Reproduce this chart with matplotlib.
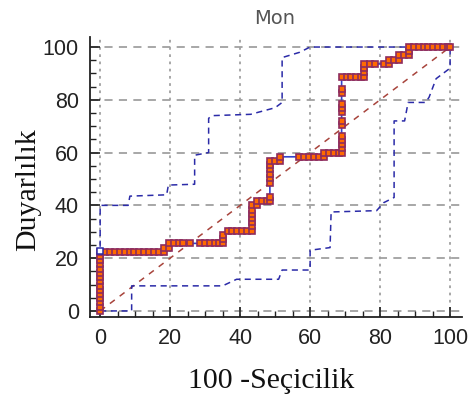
import matplotlib
matplotlib.use("Agg")
import matplotlib.pyplot as plt
from matplotlib.ticker import MultipleLocator

# ROC curve points (100 - specificity, sensitivity)
roc_fpr = [0, 0, 0, 0, 0, 0, 0, 0, 0, 0, 0, 0, 0, 0, 0,
           1.4, 2.8, 4.2, 5.6, 7.0, 8.4, 9.8, 11.2, 12.6, 14.0, 15.4, 16.8,
           18.2, 18.2, 19.6, 19.6, 21.0, 22.4, 23.8, 25.7, 28.5, 29.9, 31.3, 32.7, 34.1,
           35.0, 35.0, 35.0, 36.4, 37.8, 39.2, 40.6, 42.0, 43.4,
           43.4, 43.4, 43.4, 43.4, 43.4, 43.4, 44.8, 44.8, 46.2, 47.6,
           48.5, 48.5, 48.5, 48.5, 48.5, 48.5, 48.5, 48.5, 50.0, 51.5, 51.5,
           56.8, 58.2, 59.6, 61.0, 62.4, 64.0, 64.0, 65.4, 66.8, 68.2,
           69.0, 69.0, 69.0, 69.0, 69.0, 69.0, 69.0, 69.0, 69.0, 69.0, 69.0, 69.0, 69.0,
           70.4, 71.8, 73.2, 74.6, 75.5, 75.5, 75.5, 75.5, 77.0, 78.4,
           81.2, 82.6, 82.6, 84.0, 85.4, 85.4, 86.8, 88.2, 88.2, 88.2,
           89.6, 91.0, 92.4, 93.8, 95.2, 96.6, 98.0, 99.4, 100]
roc_tpr = [0, 1.6, 3.2, 4.8, 6.4, 8.0, 9.6, 11.2, 12.8, 14.4, 16.0, 17.6, 19.2, 20.8, 22.4,
           22.4, 22.4, 22.4, 22.4, 22.4, 22.4, 22.4, 22.4, 22.4, 22.4, 22.4, 22.4,
           22.4, 24.0, 24.0, 25.6, 25.6, 25.6, 25.6, 25.6, 25.6, 25.6, 25.6, 25.6, 25.6,
           25.6, 27.2, 28.8, 30.4, 30.4, 30.4, 30.4, 30.4, 30.4,
           32.0, 33.6, 35.2, 36.8, 38.4, 40.0, 40.0, 41.6, 41.6, 41.6,
           41.6, 43.0, 48.3, 50.4, 52.0, 53.6, 55.2, 56.8, 56.8, 56.8, 58.4,
           58.4, 58.4, 58.4, 58.4, 58.4, 58.4, 60.0, 60.0, 60.0, 60.0,
           60.0, 61.6, 63.2, 64.8, 66.4, 70.4, 72.0, 75.2, 76.8, 78.4, 82.4, 84.0, 88.8,
           88.8, 88.8, 88.8, 88.8, 88.8, 90.4, 92.0, 93.6, 93.6, 93.6,
           93.6, 93.6, 95.2, 95.2, 95.2, 96.8, 96.8, 96.8, 98.4, 100,
           100, 100, 100, 100, 100, 100, 100, 100, 100]

# Highlighted point at the top of the first vertical run
cut_fpr = [0]
cut_tpr = [22.8]

# Upper confidence bound
upper_x = [0, 0, 8, 8.5, 19, 19.5, 27, 27, 31, 31, 32, 43, 50, 52, 52, 57, 60, 100]
upper_y = [0, 40, 40, 43.5, 44, 47.7, 48, 59, 60, 73, 74, 74.5, 77, 79, 96, 98, 100, 100]

# Lower confidence bound
lower_x = [0, 9, 9, 35, 39, 51, 52, 60, 60, 65.7, 66, 79, 81, 84, 84, 87, 88, 93, 94, 96, 98, 100, 100]
lower_y = [0, 0, 9.5, 9.5, 12, 12, 15.5, 15.5, 23, 24, 37.5, 38, 41, 43, 72, 72, 79, 79, 81, 88, 90, 92, 100]

# Reference diagonal
diag_x = [0, 100]
diag_y = [0, 100]

major_ticks = [0, 20, 40, 60, 80, 100]

fig = plt.figure(figsize=(4.7, 4.05), dpi=100)
ax = fig.add_axes([90 / 470, 1 - 317 / 405, 372 / 470, 280 / 405])

ax.set_xlim(-2.9, 103.4)
ax.set_ylim(-2.3, 103.8)

# grid: dashed horizontals, dotted verticals
for v in major_ticks:
    ax.axhline(v, color="#a0a0a0", lw=1.3, ls=(0, (4.5, 3.5)), zorder=0)
    ax.axvline(v, color="#a0a0a0", lw=1.3, ls=(0, (1.5, 2.5)), zorder=0)

ax.plot(diag_x, diag_y, color="#a8443c", lw=1.1, ls=(0, (4, 4)), zorder=1)
ax.plot(upper_x, upper_y, color="#2b2ba8", lw=1.1, ls=(0, (4, 3)), zorder=2)
ax.plot(lower_x, lower_y, color="#2b2ba8", lw=1.1, ls=(0, (4, 3)), zorder=2)

ax.plot(roc_fpr, roc_tpr, color="#3344cc", lw=1.2, zorder=3)
ax.plot(roc_fpr, roc_tpr, ls="none", marker="s", markersize=4.6,
        markerfacecolor="#ff6a00", markeredgecolor="#8e2c5e", markeredgewidth=1.2, zorder=4)
ax.plot(cut_fpr, cut_tpr, ls="none", marker="s", markersize=4.6,
        markerfacecolor="white", markeredgecolor="#2b2ba8", markeredgewidth=1.1, zorder=5)

for s in ["top", "right"]:
    ax.spines[s].set_visible(False)
for s in ["left", "bottom"]:
    ax.spines[s].set_linewidth(1.3)
    ax.spines[s].set_color("#222222")

ax.xaxis.set_major_locator(MultipleLocator(20))
ax.yaxis.set_major_locator(MultipleLocator(20))
ax.xaxis.set_minor_locator(MultipleLocator(5))
ax.yaxis.set_minor_locator(MultipleLocator(5))
ax.tick_params(which="major", direction="in", length=7, width=1.2, color="#222222",
               labelsize=15.5, labelcolor="#222222", pad=8)
ax.tick_params(which="minor", direction="in", length=4, width=1.0, color="#222222")
for lab in ax.get_xticklabels() + ax.get_yticklabels():
    lab.set_family("Liberation Sans")

fig.text(275 / 470, 1 - 19 / 405, "Mon", ha="center", va="center",
         fontsize=14, color="#555555", family="DejaVu Sans")
fig.text(271 / 470, 1 - 381 / 405, "100 -Seçicilik", ha="center", va="center",
         fontsize=21.5, family="Liberation Serif", color="#111111")
fig.text(28 / 470, 1 - 190 / 405, "Duyarlılık", ha="center", va="center", rotation=90,
         fontsize=21.5, family="Liberation Serif", color="#111111")

fig.savefig("out.png", dpi=100)
